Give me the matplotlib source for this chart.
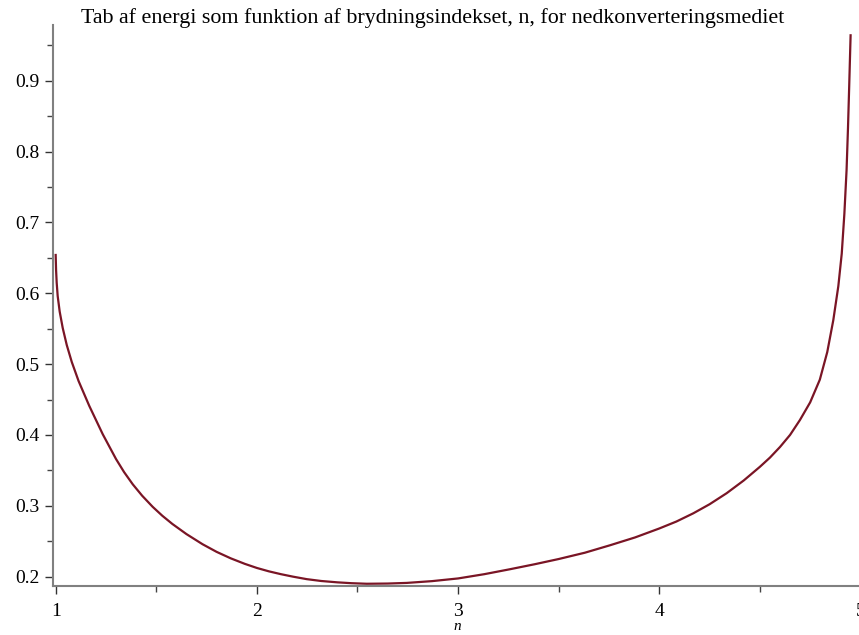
import matplotlib
matplotlib.use("Agg")
import matplotlib.pyplot as plt
from matplotlib.ticker import MultipleLocator

# aflæste punkter (n, energitab)
n_vals = [1.000, 1.002, 1.005, 1.010, 1.020, 1.035, 1.055, 1.080, 1.114, 1.167,
          1.234, 1.300, 1.340, 1.383, 1.430, 1.482, 1.530, 1.580, 1.650, 1.730,
          1.800, 1.870, 1.940, 2.000, 2.060, 2.120, 2.180, 2.248, 2.320, 2.400,
          2.470, 2.546, 2.650, 2.745, 2.870, 3.000, 3.130, 3.258, 3.380, 3.500,
          3.630, 3.755, 3.880, 4.000, 4.085, 4.169, 4.250, 4.335, 4.420, 4.500,
          4.550, 4.600, 4.650, 4.699, 4.750, 4.798, 4.835, 4.865, 4.890, 4.907,
          4.920, 4.931, 4.938, 4.944, 4.951]
tab_vals = [0.654, 0.633, 0.615, 0.596, 0.574, 0.551, 0.527, 0.503, 0.476, 0.441,
            0.401, 0.366, 0.3476, 0.3304, 0.3142, 0.2986, 0.2860, 0.2744, 0.2601, 0.2458,
            0.2350, 0.2259, 0.2181, 0.2123, 0.2075, 0.2035, 0.2000, 0.1965, 0.1939, 0.1920,
            0.1908, 0.1900, 0.1903, 0.1912, 0.1937, 0.1975, 0.2035, 0.2105, 0.2175, 0.2249,
            0.2338, 0.2443, 0.2554, 0.268, 0.2778, 0.2894, 0.3022, 0.3178, 0.3358, 0.355,
            0.368, 0.383, 0.400, 0.421, 0.446, 0.478, 0.517, 0.562, 0.610, 0.656,
            0.712, 0.774, 0.833, 0.892, 0.964]

title = "Tab af energi som funktion af brydningsindekset, n, for nedkonverteringsmediet"

serif = ["Liberation Serif", "DejaVu Serif"]
fig = plt.figure(figsize=(8.59, 6.35), dpi=100)
ax = fig.add_axes([0.0620, 0.0769, 0.9397, 0.8838])

ax.plot(n_vals, tab_vals, color="#7a1525", lw=1.6, solid_joinstyle="round")

ax.set_xlim(0.988, 5.0)
ax.set_ylim(0.1866, 0.9786)
ax.xaxis.set_major_locator(MultipleLocator(1))
ax.xaxis.set_minor_locator(MultipleLocator(0.5))
ax.yaxis.set_major_locator(MultipleLocator(0.1))
ax.yaxis.set_minor_locator(MultipleLocator(0.05))

for side in ["top", "right"]:
    ax.spines[side].set_visible(False)
for side in ["left", "bottom"]:
    ax.spines[side].set_color("#808080")
    ax.spines[side].set_linewidth(1.5)

ax.tick_params(axis="y", which="major", length=6, width=1, color="#333333", pad=4)
ax.tick_params(axis="y", which="minor", length=4, width=1, color="#444444")
ax.tick_params(axis="x", which="major", length=6, width=1, color="#333333", pad=6)
ax.tick_params(axis="x", which="minor", length=4, width=1, color="#444444")

ax.set_yticks([0.2, 0.3, 0.4, 0.5, 0.6, 0.7, 0.8, 0.9])
ax.set_yticklabels(["0.2", "0.3", "0.4", "0.5", "0.6", "0.7", "0.8", "0.9"])
for lab in ax.get_xticklabels() + ax.get_yticklabels():
    lab.set_fontfamily(serif)
    lab.set_fontsize(14)

ax.set_xlabel("n", fontfamily=serif, fontstyle="italic", fontsize=11, labelpad=0)

fig.text(432.5 / 859, 1 - 18 / 635, title, ha="center", va="center",
         fontfamily=serif, fontsize=15.8)

fig.savefig("out.png", dpi=100)
